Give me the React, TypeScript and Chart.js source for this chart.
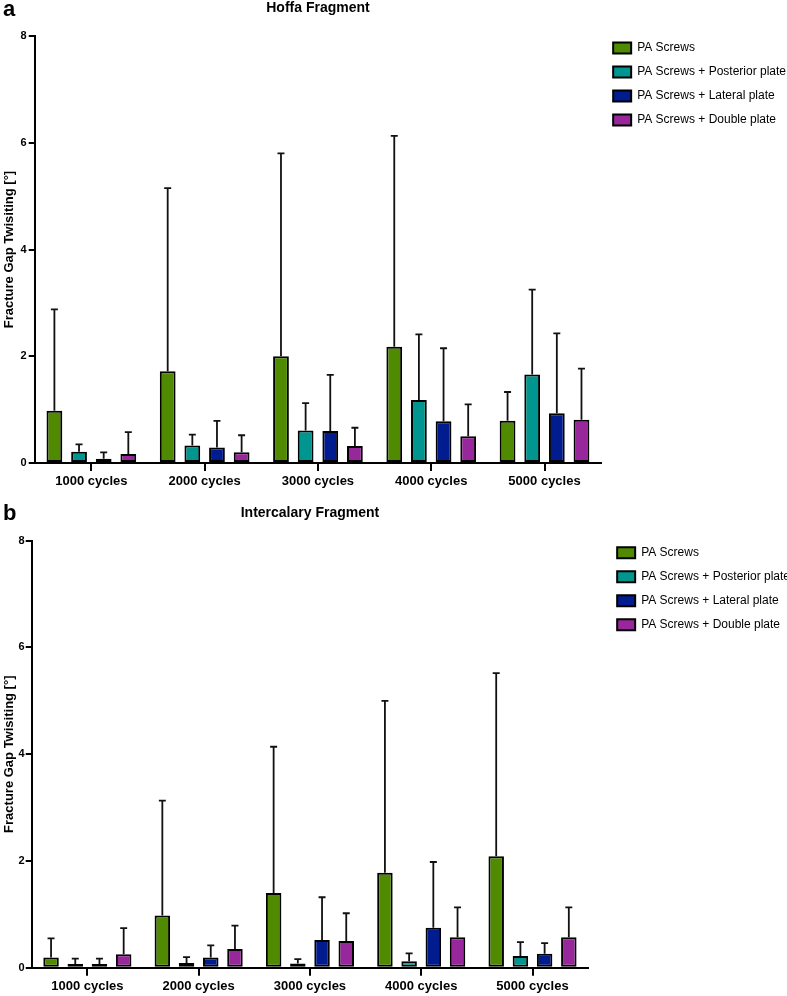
import React, { useEffect, useRef } from "react";
import { Chart, registerables } from "chart.js";

Chart.register(...registerables);

// ---------- data ----------
const categories = ["1000 cycles", "2000 cycles", "3000 cycles", "4000 cycles", "5000 cycles"];
const seriesNames = [
  "PA Screws",
  "PA Screws + Posterior plate",
  "PA Screws + Lateral plate",
  "PA Screws + Double plate",
];
const seriesColors = ["#4f8a00", "#00958f", "#001c8e", "#97279a"];
const yTickValues = [0, 2, 4, 6, 8];
const yAxisTitle = "Fracture Gap Twisiting [°]";

// Panel a: Hoffa fragment (mean, SD)
const hoffaScrews = [0.98, 1.72, 2.0, 2.18, 0.79];
const hoffaScrewsSD = [1.9, 3.43, 3.8, 3.95, 0.54];
const hoffaPosterior = [0.21, 0.33, 0.61, 1.18, 1.66];
const hoffaPosteriorSD = [0.14, 0.2, 0.51, 1.23, 1.59];
const hoffaLateral = [0.08, 0.29, 0.6, 0.78, 0.93];
const hoffaLateralSD = [0.12, 0.5, 1.05, 1.37, 1.5];
const hoffaDouble = [0.17, 0.2, 0.32, 0.5, 0.81];
const hoffaDoubleSD = [0.41, 0.32, 0.34, 0.6, 0.96];

// Panel b: Intercalary fragment (mean, SD)
const interScrews = [0.19, 0.98, 1.4, 1.78, 2.09];
const interScrewsSD = [0.36, 2.15, 2.74, 3.22, 3.43];
const interPosterior = [0.07, 0.09, 0.08, 0.12, 0.22];
const interPosteriorSD = [0.1, 0.11, 0.08, 0.15, 0.26];
const interLateral = [0.07, 0.19, 0.52, 0.75, 0.26];
const interLateralSD = [0.1, 0.23, 0.8, 1.23, 0.2];
const interDouble = [0.25, 0.35, 0.5, 0.57, 0.57];
const interDoubleSD = [0.49, 0.44, 0.52, 0.56, 0.56];

const FONT = "'Liberation Sans', Arial, Helvetica, sans-serif";

// ---------- plugins ----------
const errorBars = {
  id: "errorBars",
  afterDatasetsDraw(chart: any) {
    const ctx = chart.ctx;
    const y = chart.scales.y;
    ctx.save();
    ctx.strokeStyle = "#111";
    ctx.lineWidth = 1.8;
    chart.data.datasets.forEach((ds: any, i: number) => {
      const meta = chart.getDatasetMeta(i);
      meta.data.forEach((el: any, j: number) => {
        const top = y.getPixelForValue(ds.data[j] + ds.sd[j]);
        ctx.beginPath();
        ctx.moveTo(el.x, el.y);
        ctx.lineTo(el.x, top);
        ctx.moveTo(el.x - 3.5, top);
        ctx.lineTo(el.x + 3.5, top);
        ctx.stroke();
      });
    });
    ctx.restore();
  },
};

const panelTitle = {
  id: "panelTitle",
  afterDraw(chart: any, _args: any, opts: any) {
    const ctx = chart.ctx;
    const a = chart.chartArea;
    ctx.save();
    ctx.fillStyle = "#000";
    ctx.font = `bold 14px ${FONT}`;
    ctx.textAlign = "center";
    ctx.textBaseline = "middle";
    ctx.fillText(opts.text, (a.left + a.right) / 2, opts.y);
    ctx.restore();
  },
};

const legendPlace = {
  id: "legendPlace",
  afterLayout(chart: any, _args: any, opts: any) {
    const lg = chart.legend;
    if (!lg) return;
    const dx = opts.dx || 0;
    const dy = opts.dy || 0;
    lg.left += dx;
    lg.right += dx;
    lg.top += dy;
    lg.bottom += dy;
  },
};

function makeConfig(
  values: number[][],
  sds: number[][],
  title: string,
  titleY: number,
  padding: any,
  legendDx: number,
  legendDy: number,
  yTickPad: number,
  yTitlePadBottom: number
) {
  return {
    type: "bar",
    data: {
      labels: categories,
      datasets: seriesNames.map((name, i) => ({
        label: name,
        data: values[i],
        sd: sds[i],
        backgroundColor: seriesColors[i],
        borderColor: "#000",
        borderWidth: 2,
        borderSkipped: false,
        categoryPercentage: 0.87,
        barPercentage: 0.64,
      })),
    },
    options: {
      responsive: false,
      animation: false,
      layout: { padding },
      scales: {
        x: {
          grid: {
            display: true,
            drawOnChartArea: false,
            drawTicks: true,
            tickLength: 8,
            lineWidth: 2,
            color: "#000",
            offset: false,
          },
          border: { display: true, color: "#000", width: 2 },
          ticks: {
            color: "#000",
            padding: 3,
            font: { family: FONT, size: 13, weight: "bold" },
            maxRotation: 0,
          },
        },
        y: {
          min: 0,
          max: 8,
          afterBuildTicks(scale: any) {
            scale.ticks = yTickValues.map((v) => ({ value: v }));
          },
          grid: {
            display: true,
            drawOnChartArea: false,
            drawTicks: true,
            tickLength: 6,
            lineWidth: 2,
            color: "#000",
          },
          border: { display: true, color: "#000", width: 2 },
          ticks: {
            color: "#000",
            padding: yTickPad,
            font: { family: FONT, size: 11, weight: "bold" },
          },
          title: {
            display: true,
            text: yAxisTitle,
            color: "#000",
            font: { family: FONT, size: 13, weight: "bold" },
            padding: { top: 2, bottom: yTitlePadBottom },
          },
        },
      },
      plugins: {
        legend: {
          position: "right",
          align: "start",
          labels: {
            boxWidth: 18,
            boxHeight: 11,
            padding: 12,
            color: "#000",
            font: { family: FONT, size: 12 },
          },
        },
        tooltip: { enabled: false },
        panelTitle: { text: title, y: titleY },
        legendPlace: { dx: legendDx, dy: legendDy },
      },
    },
    plugins: [errorBars, panelTitle, legendPlace],
  };
}

export default function App() {
  const topRef = useRef<HTMLCanvasElement | null>(null);
  const botRef = useRef<HTMLCanvasElement | null>(null);

  useEffect(() => {
    const c1 = new Chart(
      topRef.current as HTMLCanvasElement,
      makeConfig(
        [hoffaScrews, hoffaPosterior, hoffaLateral, hoffaDouble],
        [hoffaScrewsSD, hoffaPosteriorSD, hoffaLateralSD, hoffaDoubleSD],
        "Hoffa Fragment",
        8,
        { top: 36, bottom: 7.4, left: 0, right: 0 },
        0,
        -6,
        2,
        1
      ) as any
    );
    const c2 = new Chart(
      botRef.current as HTMLCanvasElement,
      makeConfig(
        [interScrews, interPosterior, interLateral, interDouble],
        [interScrewsSD, interPosteriorSD, interLateralSD, interDoubleSD],
        "Intercalary Fragment",
        13.5,
        { top: 40.7, bottom: 2.7, left: 0, right: 4 },
        17,
        -6,
        1,
        0
      ) as any
    );
    return () => {
      c1.destroy();
      c2.destroy();
    };
  }, []);

  const letter: React.CSSProperties = {
    position: "absolute",
    left: 3,
    fontFamily: FONT,
    fontWeight: "bold",
    fontSize: 22,
    lineHeight: "22px",
    color: "#000",
  };

  return (
    <div
      style={{
        position: "absolute",
        left: 0,
        top: 0,
        width: 787,
        height: 996,
        overflow: "hidden",
        background: "#fff",
      }}
    >
      <canvas
        ref={topRef}
        width={796}
        height={500}
        style={{ position: "absolute", left: 0, top: 0, width: 796, height: 500 }}
      />
      <canvas
        ref={botRef}
        width={787}
        height={500}
        style={{ position: "absolute", left: 0, top: 500, width: 787, height: 500 }}
      />
      <div style={{ ...letter, top: -2 }}>a</div>
      <div style={{ ...letter, top: 502 }}>b</div>
    </div>
  );
}
